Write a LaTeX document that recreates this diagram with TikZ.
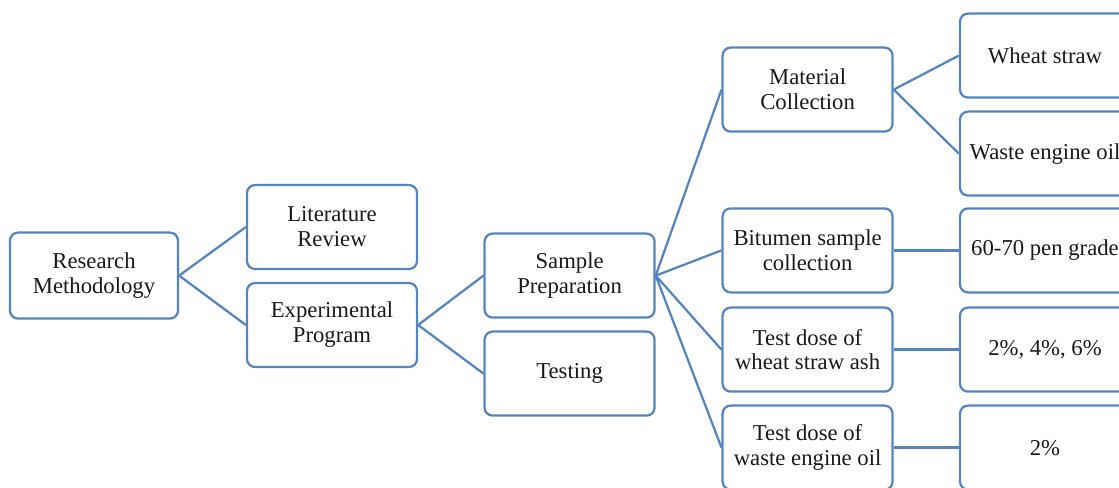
\documentclass[tikz,border=0pt]{standalone}
\usepackage{fontspec}
\setmainfont{Liberation Serif}
\usepackage{xcolor}
\definecolor{boxblue}{RGB}{84,133,192}
\definecolor{inkgray}{RGB}{25,25,25}

\begin{document}
\begin{tikzpicture}[scale=0.2]
		\tikzstyle{every node}+=[inner sep=0pt]
		\tikzstyle{box}=[draw=boxblue, line width=3.2pt, rounded corners=0.4cm, minimum width=8.5cm, minimum height=4.2cm, align=center, text=inkgray, font=\fontsize{32.3}{35.5}\selectfont]
		\tikzstyle{link}=[draw=boxblue, line width=3.2pt]
		\useasboundingbox (0,0) rectangle (279.75,-121.75);
		\clip (0,0) rectangle (279.75,-121.75);
		% column 1 and 2
		\node [box, minimum width=8.4cm, minimum height=4.3cm] (method) at (23.5,-68.9) {Research\\Methodology};
		\node [box] (review) at (83,-56.75) {Literature\\Review};
		\node [box] (program) at (83,-81.25) {Experimental\\Program};
		% column 3
		\node [box] (prep) at (142.4,-68.9) {Sample\\Preparation};
		\node [box] (testing) at (142.4,-93.4) {Testing};
		% column 4
		\node [box] (material) at (201.9,-22.4) {Material\\Collection};
		\node [box] (bitumen) at (201.9,-62.6) {Bitumen sample\\collection};
		\node [box] (doseash) at (201.9,-87.4) {Test dose of\\wheat straw ash};
		\node [box] (doseoil) at (201.9,-111.9) {Test dose of\\waste engine oil};
		% column 5
		\node [box] (straw) at (261.25,-13.9) {Wheat straw};
		\node [box] (oil) at (261.25,-38.4) {Waste engine oil};
		\node [box] (grade) at (261.25,-62.6) {60-70 pen grade};
		\node [box] (ashpct) at (261.25,-87.4) {2\%, 4\%, 6\%};
		\node [box] (oilpct) at (261.25,-111.9) {2\%};
		% links
		\draw [link] (method.east) -- (review.west);
		\draw [link] (method.east) -- (program.west);
		\draw [link] (program.east) -- (prep.west);
		\draw [link] (program.east) -- (testing.west);
		\draw [link] (prep.east) -- (material.west);
		\draw [link] (prep.east) -- (bitumen.west);
		\draw [link] (prep.east) -- (doseash.west);
		\draw [link] (prep.east) -- (doseoil.west);
		\draw [link] (material.east) -- (straw.west);
		\draw [link] (material.east) -- (oil.west);
		\draw [link] (bitumen.east) -- (grade.west);
		\draw [link] (doseash.east) -- (ashpct.west);
		\draw [link] (doseoil.east) -- (oilpct.west);
	\end{tikzpicture}
\end{document}
